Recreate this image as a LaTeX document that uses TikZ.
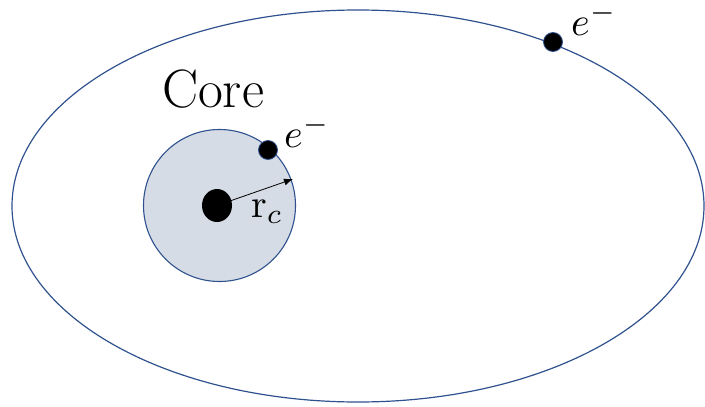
\documentclass[tikz,border=0pt]{standalone}
\usepackage{graphicx}
\usetikzlibrary{arrows.meta,shapes.geometric}
\definecolor{orbitblue}{HTML}{2F528F}
\definecolor{corefill}{HTML}{D6DCE5}
\newcommand{\bigmath}[1]{\scalebox{4}{$#1$}}
\begin{document}
\begin{tikzpicture}[x=1pt,y=-1pt,
  electron/.style={circle,fill=black,draw=orbitblue,line width=0.8pt,minimum size=19pt,inner sep=0pt},
  nucleus/.style={ellipse,fill=black,minimum width=30pt,minimum height=33pt,inner sep=0pt},
  biglabel/.style={inner sep=0pt,anchor=base west}]
  \useasboundingbox (0,0) rectangle (705,407);
  % orbit and core
  \draw[orbitblue,line width=1.2pt] (358,206) ellipse (346 and 196);
  \draw[orbitblue,fill=corefill,line width=1.1pt] (219.5,205.5) circle (76);
  \node[nucleus] (nuc) at (217,205.5) {};
  \coordinate (rim) at (293,179);
  \draw[-{Latex[length=9pt,width=7pt]},line width=0.8pt] (nuc.center) -- (rim);
  % electrons
  \node[electron] (ecore) at (268,150) {};
  \node[electron] (eouter) at (553,42) {};
  % labels
  \node[font=\fontsize{54}{62}\selectfont,anchor=base,inner sep=0pt] (corelabel) at (213,107) {Core};
  \node[biglabel] (ecorelabel) at (284,147) {\bigmath{e^-}};
  \node[biglabel] (eouterlabel) at (571,35) {\bigmath{e^-}};
  \node[biglabel] (rclabel) at (251,217) {\bigmath{\mathrm{r}_c}};
\end{tikzpicture}
\end{document}
